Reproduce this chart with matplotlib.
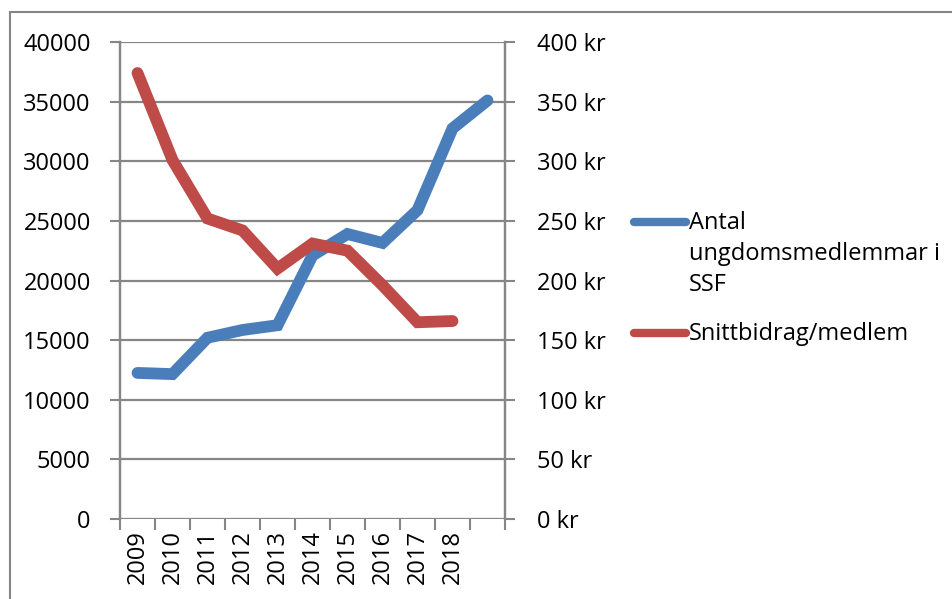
import matplotlib
matplotlib.use("Agg")
import matplotlib.pyplot as plt
from matplotlib.lines import Line2D
from matplotlib.patches import Rectangle

plt.rcParams['font.family'] = ['Open Sans', 'DejaVu Sans']

years = ['2009', '2010', '2011', '2012', '2013', '2014', '2015', '2016', '2017', '2018', '']
members = [12250, 12150, 15200, 15850, 16250, 22100, 23900, 23150, 25900, 32750, 35100]
avg_contrib = [374, 301, 252, 242, 210, 231, 225, 196, 165, 166]

BLUE = '#4A7EBB'
RED = '#BE4B48'
GRID = '#868686'
FS = 17

fig = plt.figure(figsize=(9.52, 5.99), dpi=100)
# outer chart border
fig.patches.append(Rectangle((10 / 952, -0.1), 1.0, 1.1 - 12 / 599, transform=fig.transFigure,
                             fill=False, edgecolor=GRID, linewidth=1.5))

ax = fig.add_axes([120 / 952, 80 / 599, 385 / 952, 477 / 599])
ax2 = ax.twinx()

x = list(range(len(years)))
ax.plot(x, members, color=BLUE, linewidth=8.5, solid_capstyle='round', solid_joinstyle='miter', zorder=3)
ax2.plot(x[:len(avg_contrib)], avg_contrib, color=RED, linewidth=8.5, solid_capstyle='round',
         solid_joinstyle='miter', zorder=3)

ax.set_xlim(-0.5, len(years) - 0.5)
ax.set_ylim(0, 40000)
ax2.set_ylim(0, 400)
ax.set_yticks(range(0, 40001, 5000))
ax2.set_yticks(range(0, 401, 50))
ax2.set_yticklabels(['%d kr' % v for v in range(0, 401, 50)])

ax.set_xticks(x)
ax.set_xticklabels(years, rotation=90, fontsize=FS)
ax.set_xticks([i - 0.5 for i in range(len(years) + 1)], minor=True)
ax.tick_params(axis='x', which='major', length=0, pad=8)
ax.tick_params(axis='x', which='minor', length=8, width=1.5, color=GRID, direction='out')
ax.tick_params(axis='y', length=7, width=1.5, color=GRID, labelsize=FS, pad=14)
ax2.tick_params(axis='y', length=7, width=1.5, color=GRID, labelsize=FS, pad=16)

ax.grid(axis='y', color=GRID, linewidth=1.6)
ax.set_axisbelow(True)
for a in (ax, ax2):
    a.spines['top'].set_visible(False)
    a.spines['bottom'].set_visible(False)
    a.spines['left'].set_color(GRID)
    a.spines['right'].set_color(GRID)
    a.spines['left'].set_linewidth(1.6)
    a.spines['right'].set_linewidth(1.6)
ax2.set_zorder(ax.get_zorder() + 1)
ax2.patch.set_visible(False)

# legend
W, H = 952, 599
for yy, col, txt in [(222, BLUE, 'Antal\nungdomsmedlemmar i\nSSF'), (333, RED, 'Snittbidrag/medlem')]:
    fig.add_artist(Line2D([634 / W, 686 / W], [1 - yy / H, 1 - yy / H], color=col, linewidth=6,
                          solid_capstyle='round', transform=fig.transFigure))
    fig.text(689 / W, 1 - (yy - 11) / H, txt, fontsize=FS, va='top', ha='left', linespacing=1.38)

fig.savefig('out.png', dpi=100)
